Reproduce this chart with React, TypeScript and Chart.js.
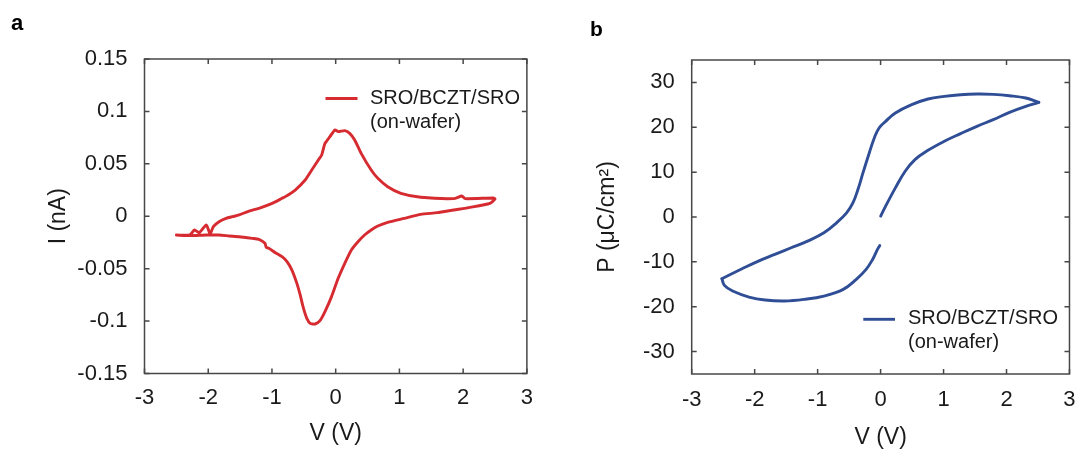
import React, { useEffect, useRef } from 'react';
import { Chart, registerables } from 'chart.js';

Chart.register(...registerables);

// ---------- Panel a: I–V loop (SRO/BCZT/SRO on-wafer) ----------
const ivVoltage = [
  -2.5, -2.29, -2.215, -2.14, -2.03, -1.97, -1.92, -1.83, -1.72, -1.62, -1.515, -1.36, -1.205,
  -0.997, -0.842, -0.79, -0.635, -0.479, -0.376, -0.272, -0.22, -0.168, -0.09, -0.012, 0.039,
  0.143, 0.22, 0.298, 0.4, 0.557, 0.661, 0.816, 1.023, 1.334, 1.853, 1.98, 2.03, 2.475, 2.5,
  2.42, 2.11, 1.853, 1.593, 1.334, 1.075, 0.816, 0.661, 0.557, 0.453, 0.35, 0.246, 0.143, 0.039,
  -0.065, -0.168, -0.246, -0.324, -0.4, -0.453, -0.505, -0.557, -0.609, -0.687, -0.764, -0.842,
  -0.946, -1.049, -1.09, -1.11, -1.205, -1.308, -1.515, -1.67, -1.83, -2.03, -2.29, -2.5,
];
const ivCurrent = [
  -0.0179, -0.0179, -0.0131, -0.0157, -0.0083, -0.0169, -0.0099, -0.0052, -0.002, -0.0004, 0.0012,
  0.005, 0.0076, 0.0123, 0.0171, 0.0187, 0.025, 0.0346, 0.0441, 0.0537, 0.0584, 0.0695, 0.0759,
  0.0823, 0.0807, 0.0817, 0.0791, 0.0728, 0.06, 0.0441, 0.0362, 0.0282, 0.0219, 0.0181, 0.0168,
  0.0193, 0.0168, 0.0174, 0.0165,
  0.0123, 0.0085, 0.006, 0.0034, 0.0018, -0.002, -0.0058, -0.0093, -0.0131, -0.0179, -0.0243,
  -0.0322, -0.0449, -0.0592, -0.0767, -0.091, -0.0996, -0.1028, -0.1022, -0.0974, -0.0879,
  -0.0751, -0.064, -0.0513, -0.0433, -0.0386, -0.0348, -0.0306, -0.0297, -0.0258, -0.022,
  -0.0211, -0.0195, -0.0188, -0.0179, -0.0179, -0.0185, -0.0179,
];

// ---------- Panel b: P–V hysteresis loop ----------
const pvRiseV = [0.002, 0.08, 0.235, 0.39, 0.546, 0.753, 1.012, 1.27, 1.53, 1.79, 2.047, 2.306, 2.513];
const pvRiseP = [0.2, 2.41, 6.49, 10.2, 12.8, 14.87, 16.88, 18.58, 20.22, 21.7, 23.33, 24.67, 25.56];
const pvDownV = [
  2.513, 2.306, 2.047, 1.79, 1.53, 1.27, 1.012, 0.753, 0.494, 0.235, 0.08, -0.024, -0.1, -0.18,
  -0.28, -0.36, -0.44, -0.54, -0.7, -0.9, -1.16, -1.42, -1.68, -1.94, -2.2, -2.52,
];
const pvDownP = [
  25.56, 26.52, 27.04, 27.34, 27.41, 27.26, 26.89, 26.3, 25.04, 23.18, 21.33, 19.85, 17.62, 14.28,
  9.83, 6.12, 3.15, 0.93, -1.3, -3.52, -5.38, -6.86, -8.35, -9.83, -11.54, -13.76,
];
const pvBackV = [-2.52, -2.48, -2.35, -2.09, -1.835, -1.525, -1.21, -0.9, -0.593, -0.386, -0.23, -0.127, -0.05, -0.013];
const pvBackP = [-13.76, -15.25, -16.51, -17.84, -18.51, -18.73, -18.36, -17.62, -16.14, -13.91, -11.68, -9.46, -7.23, -6.34];

// ---------- Axes / labels ----------
const vTicks = [-3, -2, -1, 0, 1, 2, 3];
const vTickLabels = ['-3', '-2', '-1', '0', '1', '2', '3'];
const iTicks = [-0.15, -0.1, -0.05, 0, 0.05, 0.1, 0.15];
const iTickLabels = ['-0.15', '-0.1', '-0.05', '0', '0.05', '0.1', '0.15'];
const pTicks = [-30, -20, -10, 0, 10, 20, 30];
const pTickLabels = ['-30', '-20', '-10', '0', '10', '20', '30'];
const legendLines = ['SRO/BCZT/SRO', '(on-wafer)'];

const FONT = '"Liberation Sans", Arial, Helvetica, sans-serif';
const TEXT = '#1a1a1a';
const RED = '#d62b31';
const BLUE = '#2f4e96';

const framePlugin = {
  id: 'frame',
  beforeDatasetsDraw(chart: any, _a: any, opts: any) {
    const { ctx, chartArea: a, scales } = chart;
    ctx.save();
    ctx.strokeStyle = opts.color;
    ctx.lineWidth = opts.width;
    ctx.strokeRect(a.left, a.top, a.right - a.left, a.bottom - a.top);
    const len = opts.tickLength;
    ctx.beginPath();
    scales.x.ticks.forEach((t: any) => {
      const px = scales.x.getPixelForValue(t.value);
      ctx.moveTo(px, a.bottom);
      ctx.lineTo(px, a.bottom - len);
      ctx.moveTo(px, a.top);
      ctx.lineTo(px, a.top + len);
    });
    scales.y.ticks.forEach((t: any) => {
      const py = scales.y.getPixelForValue(t.value);
      ctx.moveTo(a.left, py);
      ctx.lineTo(a.left + len, py);
      ctx.moveTo(a.right, py);
      ctx.lineTo(a.right - len, py);
    });
    ctx.stroke();
    ctx.restore();
  },
};

const inlineLegendPlugin = {
  id: 'inlineLegend',
  afterDraw(chart: any, _a: any, opts: any) {
    const { ctx, chartArea: a } = chart;
    const ds = chart.data.datasets[0];
    const lines = String(ds.label).split('\n');
    ctx.save();
    ctx.strokeStyle = ds.borderColor;
    ctx.lineWidth = ds.borderWidth;
    ctx.beginPath();
    ctx.moveTo(a.left + opts.lineX0, a.top + opts.y);
    ctx.lineTo(a.left + opts.lineX1, a.top + opts.y);
    ctx.stroke();
    ctx.fillStyle = TEXT;
    ctx.font = `${opts.fontSize}px ${FONT}`;
    ctx.textBaseline = 'middle';
    ctx.textAlign = 'left';
    lines.forEach((l, i) => {
      ctx.fillText(l, a.left + opts.textX, a.top + opts.y + opts.textDy + i * opts.lineHeight);
    });
    ctx.restore();
  },
};

const panelLabelPlugin = {
  id: 'panelLabel',
  afterDraw(chart: any, _a: any, opts: any) {
    const { ctx } = chart;
    ctx.save();
    ctx.fillStyle = '#000';
    ctx.font = `bold ${opts.size}px ${FONT}`;
    ctx.textBaseline = 'alphabetic';
    ctx.fillText(opts.text, opts.x, opts.y);
    ctx.restore();
  },
};

function makeConfig(p: any) {
  const tickFont = { family: FONT, size: 22 };
  const titleFont = { family: FONT, size: 23 };
  return {
    type: 'scatter',
    data: { datasets: p.datasets },
    plugins: [framePlugin, inlineLegendPlugin, panelLabelPlugin],
    options: {
      animation: false,
      responsive: false,
      maintainAspectRatio: false,
      layout: { padding: p.padding },
      elements: { point: { radius: 0, hoverRadius: 0 } },
      plugins: {
        legend: { display: false },
        tooltip: { enabled: false },
        frame: { color: '#474747', width: 1.5, tickLength: 5 },
        inlineLegend: p.legend,
        panelLabel: p.panel,
      },
      scales: {
        x: {
          type: 'linear',
          min: -3,
          max: 3,
          afterBuildTicks: (s: any) => {
            s.ticks = vTicks.map((v) => ({ value: v }));
          },
          afterFit: (s: any) => {
            s.height = p.xAxisHeight;
          },
          grid: { display: false, drawTicks: false },
          border: { display: false },
          ticks: {
            padding: p.xTickPad,
            font: tickFont,
            color: TEXT,
            maxRotation: 0,
            autoSkip: false,
            callback: (_v: any, i: number) => vTickLabels[i],
          },
          title: {
            display: true,
            text: 'V (V)',
            font: titleFont,
            color: TEXT,
            padding: { top: 0, bottom: p.xTitlePad },
          },
        },
        y: {
          type: 'linear',
          min: p.yMin,
          max: p.yMax,
          afterBuildTicks: (s: any) => {
            s.ticks = p.yTicks.map((v: number) => ({ value: v }));
          },
          afterFit: (s: any) => {
            s.width = p.yAxisWidth;
          },
          grid: { display: false, drawTicks: false },
          border: { display: false },
          ticks: {
            padding: 17,
            font: tickFont,
            color: TEXT,
            autoSkip: false,
            callback: (_v: any, i: number) => p.yTickLabels[i],
          },
          title: {
            display: true,
            text: p.yTitle,
            font: titleFont,
            color: TEXT,
            padding: { top: p.yTitlePad, bottom: 0 },
          },
        },
      },
    },
  };
}

const lineStyle = (color: string, tension: number) => ({
  showLine: true,
  borderColor: color,
  backgroundColor: color,
  borderWidth: 2.9,
  tension,
  fill: false,
  pointRadius: 0,
  borderJoinStyle: 'round',
  borderCapStyle: 'round',
});

const zip = (xs: number[], ys: number[]) => xs.map((x, i) => ({ x, y: ys[i] }));

const panelA = {
  datasets: [
    { label: legendLines.join('\n'), data: zip(ivVoltage, ivCurrent), ...lineStyle(RED, 0.2) },
  ],
  padding: { top: 59, right: 13.5, bottom: 0, left: 0 },
  yAxisWidth: 144.5,
  xAxisHeight: 75.5,
  xTickPad: 11,
  xTitlePad: 1.5,
  yTitlePad: 44.5,
  yMin: -0.15,
  yMax: 0.15,
  yTicks: iTicks,
  yTickLabels: iTickLabels,
  yTitle: 'I (nA)',
  legend: { lineX0: 181, lineX1: 213, y: 39.5, textX: 225.5, textDy: 0, lineHeight: 23.5, fontSize: 20 },
  panel: { text: 'a', x: 11, y: 30, size: 22 },
};

const panelB = {
  datasets: [
    { label: legendLines.join('\n'), data: zip(pvRiseV, pvRiseP), ...lineStyle(BLUE, 0.4) },
    { label: '', data: zip(pvDownV, pvDownP), ...lineStyle(BLUE, 0.4) },
    { label: '', data: zip(pvBackV, pvBackP), ...lineStyle(BLUE, 0.4) },
  ],
  padding: { top: 60, right: 10, bottom: 0, left: 0 },
  yAxisWidth: 147.7,
  xAxisHeight: 75,
  xTickPad: 12.4,
  xTitlePad: -2,
  yTitlePad: 49.5,
  yMin: -35,
  yMax: 35,
  yTicks: pTicks,
  yTickLabels: pTickLabels,
  yTitle: 'P (\u03bcC/cm\u00b2)',
  legend: { lineX0: 171.6, lineX1: 203.3, y: 259.3, textX: 216.3, textDy: -1, lineHeight: 24.4, fontSize: 20 },
  panel: { text: 'b', x: 46, y: 36, size: 21 },
};

function Panel({ cfg, left }: { cfg: any; left: number }) {
  const ref = useRef<HTMLCanvasElement | null>(null);
  useEffect(() => {
    if (!ref.current) return;
    const chart = new Chart(ref.current, makeConfig(cfg) as any);
    return () => chart.destroy();
  }, [cfg]);
  return (
    <canvas
      ref={ref}
      width={544}
      height={449}
      style={{ position: 'absolute', left, top: 0, width: 544, height: 449 }}
    />
  );
}

export default function App() {
  return (
    <div
      style={{
        position: 'fixed',
        left: 0,
        top: 0,
        width: 1088,
        height: 449,
        background: '#ffffff',
        overflow: 'hidden',
      }}
    >
      <Panel cfg={panelA} left={0} />
      <Panel cfg={panelB} left={544} />
    </div>
  );
}
